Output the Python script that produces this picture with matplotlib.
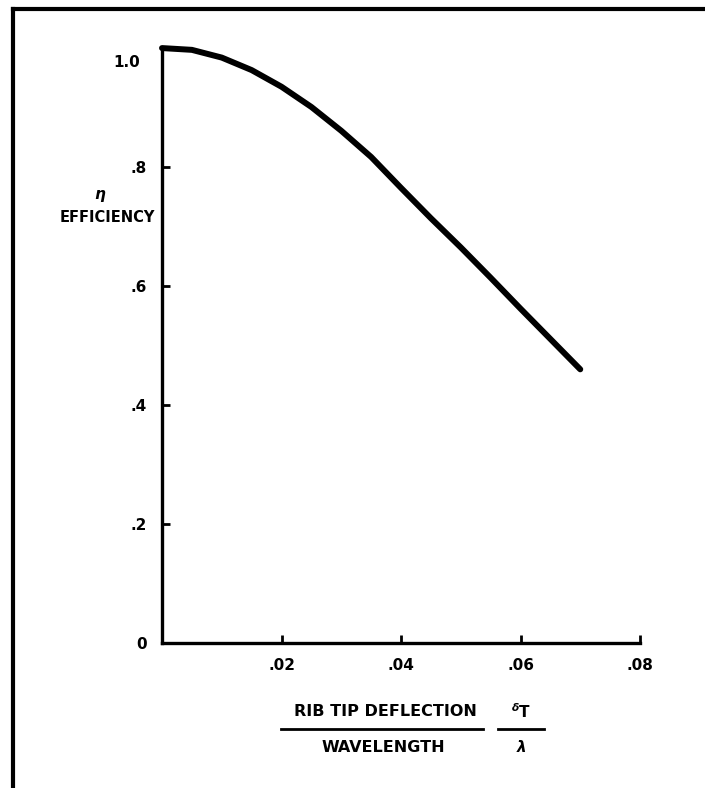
import matplotlib
matplotlib.use("Agg")
import matplotlib.pyplot as plt
from matplotlib.lines import Line2D

# efficiency vs rib tip deflection / wavelength
deflection = [0, 0.005, 0.010, 0.015, 0.020, 0.025, 0.030, 0.035, 0.040,
              0.045, 0.050, 0.055, 0.060, 0.065, 0.070]
efficiency = [1.0, 0.997, 0.984, 0.963, 0.935, 0.901, 0.861, 0.817, 0.765,
              0.714, 0.665, 0.614, 0.562, 0.511, 0.460]

x_ticks = [0.02, 0.04, 0.06, 0.08]
x_labels = [".02", ".04", ".06", ".08"]
y_ticks = [0, 0.2, 0.4, 0.6, 0.8]
y_labels = ["0", ".2", ".4", ".6", ".8"]

plt.rcParams['font.family'] = ['DejaVu Sans']
plt.rcParams['font.weight'] = 'bold'

fig = plt.figure(figsize=(7.05, 7.88), dpi=100)
ax = fig.add_axes([0.2298, 0.184, 0.678, 0.755])

ax.plot(deflection, efficiency, color='black', lw=4.3, solid_capstyle='round',
        solid_joinstyle='round', clip_on=False, zorder=3)

ax.set_xlim(0, 0.08)
ax.set_ylim(0, 1.0)
for s in ['top', 'right']:
    ax.spines[s].set_visible(False)
for s in ['left', 'bottom']:
    ax.spines[s].set_linewidth(2.4)
    ax.spines[s].set_capstyle('projecting')

ax.set_xticks(x_ticks)
ax.set_xticklabels(x_labels)
ax.set_yticks(y_ticks)
ax.set_yticklabels(y_labels)
ax.tick_params(direction='in', length=6, width=2, labelsize=11, pad=11)
ax.yaxis.get_major_ticks()[0].tick1line.set_visible(False)

# 1.0 label sits a little below the top of the axis
ax.text(-0.0037, 0.975, "1.0", ha='right', va='center', fontsize=11,
        fontweight='bold', transform=ax.transData)

# y axis label
fig.text(100 / 705, 1 - 196 / 788, r"$\eta$", ha='center', va='center', fontsize=11)
fig.text(155 / 705, 1 - 217 / 788, "EFFICIENCY", ha='right', va='center',
         fontsize=10.5, fontweight='bold')

# x axis label as a fraction
fig.text(385 / 705, 1 - 712 / 788, "RIB TIP DEFLECTION", ha='center', va='center',
         fontsize=11.5, fontweight='bold')
fig.text(383 / 705, 1 - 747 / 788, "WAVELENGTH", ha='center', va='center',
         fontsize=11.5, fontweight='bold')
fig.add_artist(Line2D([281 / 705, 483 / 705], [1 - 729 / 788, 1 - 729 / 788],
                      color='black', lw=2))
fig.text(521 / 705, 1 - 712 / 788, r"$^{\delta}$T", ha='center', va='center',
         fontsize=11, fontweight='bold')
fig.text(521 / 705, 1 - 747 / 788, r"$\lambda$", ha='center', va='center',
         fontsize=11, fontweight='bold')
fig.add_artist(Line2D([498 / 705, 544 / 705], [1 - 729 / 788, 1 - 729 / 788],
                      color='black', lw=2))

# page border (top and left only)
fig.add_artist(Line2D([13 / 705, 1.0], [1 - 9 / 788, 1 - 9 / 788], color='black', lw=3))
fig.add_artist(Line2D([13 / 705, 13 / 705], [0, 1 - 9 / 788], color='black', lw=3))

fig.savefig("out.png", dpi=100, facecolor='white')
